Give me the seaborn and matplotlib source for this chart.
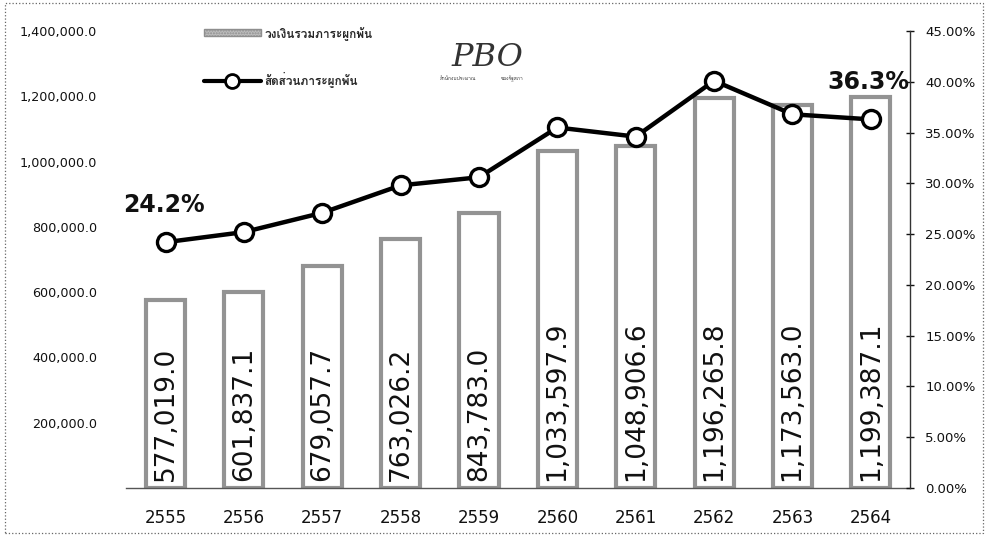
import numpy as np
import pandas as pd
import matplotlib
matplotlib.use("Agg")
import matplotlib.pyplot as plt
import seaborn as sns
from matplotlib import font_manager, ft2font
from matplotlib.lines import Line2D
from matplotlib.patches import Patch, Rectangle
from matplotlib.ticker import FuncFormatter, FixedLocator

# ---- data -------------------------------------------------------------
years = ["2555", "2556", "2557", "2558", "2559", "2560", "2561", "2562", "2563", "2564"]
commitments = [577019.0, 601837.1, 679057.7, 763026.2, 843783.0,
               1033597.9, 1048906.6, 1196265.8, 1173563.0, 1199387.1]
ratio_pct = [24.2, 25.2, 27.1, 29.8, 30.6, 35.5, 34.6, 40.1, 36.8, 36.3]
left_ticks = [200000, 400000, 600000, 800000, 1000000, 1200000, 1400000]
right_ticks = [0, 5, 10, 15, 20, 25, 30, 35, 40, 45]
bar_label_name = "วงเงินรวมภาระผูกพัน"
line_label_name = "สัดส่วนภาระผูกพัน"

df = pd.DataFrame({"year": years, "amount": commitments, "ratio": ratio_pct})

sns.set_theme(style="white")


def family_with(codepoint):
    """Return the first installed family that has a glyph for codepoint."""
    seen = set()
    for f in font_manager.fontManager.ttflist:
        if f.fname in seen:
            continue
        seen.add(f.fname)
        try:
            if codepoint in ft2font.FT2Font(f.fname).get_charmap():
                return f.name
        except Exception:
            continue
    return None


thai = family_with(0x0E27)
families = ["DejaVu Sans"] + ([thai] if thai else [])
plt.rcParams["font.family"] = families
plt.rcParams["axes.unicode_minus"] = False

fig = plt.figure(figsize=(9.87, 5.36), dpi=100)
ax = fig.add_axes([0.128, 0.0896, 0.794, 0.8525])

# ---- bars -------------------------------------------------------------
sns.barplot(data=df, x="year", y="amount", color="white", saturation=1,
            edgecolor="#939393", linewidth=3, width=0.5, ax=ax)
for i, v in enumerate(df["amount"]):
    ax.text(i, 22000, f"{v:,.1f}", rotation=90, ha="center", va="bottom",
            fontsize=19, color="#111111")

ax.set_xlim(-0.5, 9.5)
ax.set_ylim(0, 1400000)
ax.yaxis.set_major_locator(FixedLocator(left_ticks))
ax.yaxis.set_major_formatter(FuncFormatter(lambda v, p: f"{v:,.1f}"))
ax.tick_params(axis="y", length=0, pad=21, labelsize=9.2, colors="#111111")
ax.tick_params(axis="x", length=0, pad=15, labelsize=12, colors="#111111")
ax.set_xlabel("")
ax.set_ylabel("")
for side in ("left", "top", "right"):
    ax.spines[side].set_visible(False)
ax.spines["bottom"].set_color("#555555")
ax.spines["bottom"].set_linewidth(1.0)

# ---- ratio line on the secondary axis ---------------------------------
ax2 = ax.twinx()
sns.pointplot(data=df, x="year", y="ratio", color="black", ax=ax2,
              markers="o", linestyles="-", linewidth=3.2,
              markersize=13, markerfacecolor="white",
              markeredgecolor="black", markeredgewidth=2.4)
ax2.set_xlim(-0.5, 9.5)
ax2.set_ylim(0, 45)
ax2.yaxis.set_major_locator(FixedLocator(right_ticks))
ax2.yaxis.set_major_formatter(FuncFormatter(lambda v, p: f"{v:.2f}%"))
ax2.tick_params(axis="y", direction="inout", length=6, width=1, pad=8,
                labelsize=9.5, colors="#111111")
ax2.set_ylabel("")
ax2.set_xlabel("")
for side in ("left", "top", "bottom"):
    ax2.spines[side].set_visible(False)
ax2.spines["right"].set_color("#333333")
ax2.spines["right"].set_linewidth(1.0)

for i in (0, len(ratio_pct) - 1):
    ax2.annotate(f"{ratio_pct[i]:.1f}%", xy=(i, ratio_pct[i]), xytext=(-2, 37),
                 textcoords="offset pixels", ha="center", va="center",
                 fontsize=17, fontweight="bold", color="#111111")

# ---- legend -----------------------------------------------------------
handles = [
    Patch(facecolor="#bdbdbd", edgecolor="#8e8e8e", hatch="......", linewidth=1),
    Line2D([], [], color="black", linewidth=3, marker="o", markersize=10,
           markerfacecolor="white", markeredgecolor="black", markeredgewidth=2),
]
fig.legend(handles, [bar_label_name, line_label_name], loc="upper left",
           bbox_to_anchor=(198 / 987, 1 - 20 / 536), frameon=False,
           prop={"size": 8.5, "weight": "bold"}, handlelength=4.8,
           handleheight=0.55, handletextpad=0.3, labelspacing=2.7, borderpad=0)

# ---- office mark ------------------------------------------------------
fig.text(487 / 987, 1 - 58 / 536, "PBO", family="DejaVu Serif", style="italic",
         fontsize=23, color="#333333", ha="center", va="center",
         fontweight="light")
fig.text(458 / 987, 1 - 79 / 536, "สำนักงบประมาณ", fontsize=3.5, color="#333333",
         ha="center", va="center")
fig.text(512 / 987, 1 - 79 / 536, "ของรัฐสภา", fontsize=3.5, color="#333333",
         ha="center", va="center")

# ---- outer frame ------------------------------------------------------
fig.patches.append(Rectangle((5 / 987, 3 / 536), 978 / 987, 530 / 536,
                             transform=fig.transFigure, fill=False,
                             edgecolor="#666666", linewidth=0.9, linestyle=":"))

fig.savefig("out.png", dpi=100)
